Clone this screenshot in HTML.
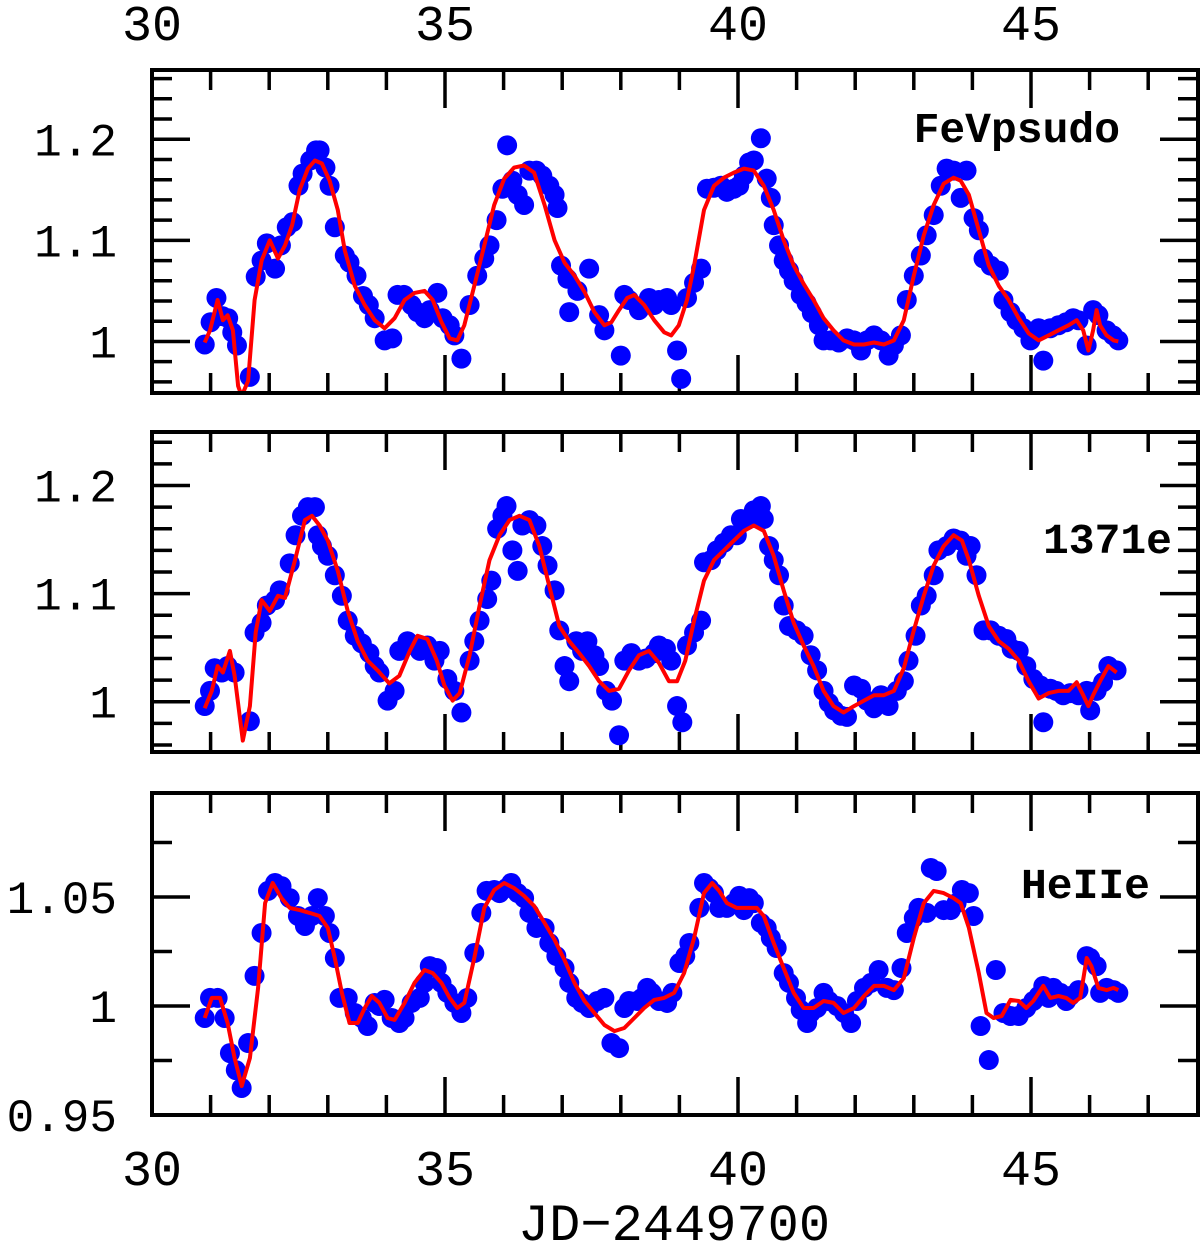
<!DOCTYPE html>
<html><head><meta charset="utf-8">
<style>
html,body{margin:0;padding:0;background:#fff;}
svg{display:block;}
text{font-family:"Liberation Mono","DejaVu Sans Mono",monospace;fill:#000;}
</style></head>
<body>
<svg id="chart" width="1200" height="1250" viewBox="0 0 1200 1250" xmlns="http://www.w3.org/2000/svg"></svg>
<script>
// ---------- data ----------
const xTickLabels = ["30","35","40","45"];
const p1YTickLabels = ["1","1.1","1.2"];
const p2YTickLabels = ["1","1.1","1.2"];
const p3YTickLabels = ["0.95","1","1.05"];
const panelLabels = ["FeVpsudo","1371e","HeIIe"];

const p1DotX = [30.90,31.0,31.1,31.2,31.3,31.37,31.45,31.67,31.77,31.87,31.96,32.1,32.2,32.3,32.4,32.5,32.57,32.7,32.8,32.86,32.96,33.03,33.12,33.29,33.37,33.49,33.6,33.7,33.8,33.97,34.1,34.19,34.3,34.43,34.53,34.65,34.74,34.87,34.96,35.08,35.16,35.28,35.42,35.55,35.67,35.76,35.88,35.98,36.06,36.15,36.24,36.35,36.44,36.56,36.66,36.78,36.87,36.92,36.98,37.09,37.12,37.26,37.46,37.63,37.72,38.0,38.06,38.14,38.31,38.48,38.57,38.65,38.79,38.86,38.96,39.03,39.13,39.25,39.37,39.47,39.59,39.71,39.81,39.93,40.02,40.1,40.19,40.27,40.39,40.49,40.56,40.61,40.7,40.78,40.87,40.95,41.07,41.17,41.26,41.38,41.46,41.58,41.72,41.86,41.98,42.1,42.2,42.32,42.44,42.57,42.66,42.78,42.88,43.0,43.12,43.22,43.34,43.46,43.56,43.68,43.8,43.9,44.02,44.11,44.19,44.31,44.45,44.53,44.65,44.75,44.87,44.99,45.13,45.21,45.33,45.47,45.6,45.72,45.81,45.95,46.06,46.15,46.29,46.4,46.49];
const p1DotY = [0.997,1.019,1.043,1.025,1.023,1.009,0.996,0.965,1.064,1.080,1.097,1.072,1.095,1.113,1.118,1.154,1.166,1.179,1.189,1.189,1.172,1.154,1.113,1.085,1.078,1.065,1.045,1.036,1.023,1.001,1.003,1.046,1.046,1.036,1.029,1.023,1.031,1.048,1.023,1.016,1.006,0.983,1.036,1.065,1.082,1.095,1.120,1.151,1.194,1.159,1.145,1.135,1.169,1.169,1.164,1.154,1.145,1.132,1.075,1.062,1.029,1.050,1.072,1.026,1.011,0.986,1.046,1.041,1.031,1.043,1.036,1.041,1.043,1.036,0.991,0.963,1.043,1.058,1.072,1.151,1.152,1.154,1.148,1.151,1.154,1.164,1.177,1.179,1.201,1.161,1.142,1.115,1.095,1.080,1.070,1.060,1.046,1.038,1.028,1.016,1.001,1.001,0.999,1.003,1.001,0.991,1.001,1.006,1.001,0.986,0.996,1.006,1.041,1.065,1.085,1.105,1.125,1.154,1.171,1.169,1.142,1.169,1.122,1.110,1.082,1.075,1.070,1.041,1.029,1.021,1.013,1.001,1.013,0.981,1.013,1.016,1.019,1.023,1.021,0.996,1.031,1.026,1.011,1.006,1.001];
const p1LineX = [30.90,30.99,31.12,31.21,31.29,31.38,31.47,31.53,31.64,31.75,31.87,32.01,32.15,32.27,32.39,32.52,32.66,32.78,32.90,33.03,33.17,33.29,33.46,33.63,33.80,33.97,34.14,34.31,34.48,34.65,34.79,34.94,35.08,35.21,35.33,35.50,35.67,35.84,36.01,36.18,36.35,36.52,36.70,36.87,37.04,37.21,37.38,37.55,37.72,37.84,37.97,38.11,38.23,38.40,38.57,38.74,38.86,38.99,39.13,39.25,39.42,39.59,39.76,39.93,40.10,40.27,40.44,40.61,40.78,40.95,41.12,41.29,41.46,41.63,41.80,41.98,42.15,42.32,42.49,42.66,42.83,43.00,43.17,43.34,43.51,43.68,43.80,43.94,44.11,44.28,44.45,44.62,44.79,44.96,45.13,45.30,45.47,45.64,45.78,45.89,45.98,46.06,46.12,46.18,46.29,46.41,46.49];
const p1LineY = [0.999,1.011,1.041,1.021,1.026,1.011,0.956,0.946,0.961,1.041,1.080,1.100,1.082,1.095,1.115,1.150,1.171,1.179,1.176,1.159,1.130,1.090,1.055,1.036,1.021,1.013,1.023,1.041,1.048,1.050,1.041,1.019,1.003,1.001,1.016,1.055,1.095,1.135,1.161,1.172,1.174,1.167,1.135,1.100,1.078,1.065,1.049,1.029,1.016,1.019,1.031,1.043,1.046,1.036,1.021,1.009,1.006,1.016,1.041,1.075,1.130,1.154,1.162,1.167,1.171,1.169,1.154,1.130,1.100,1.075,1.057,1.041,1.023,1.011,1.001,0.997,0.997,0.999,0.997,1.001,1.021,1.065,1.105,1.135,1.156,1.162,1.159,1.145,1.110,1.075,1.055,1.041,1.023,1.008,1.001,1.006,1.011,1.016,1.021,1.011,0.991,1.011,1.031,1.016,1.006,1.001,1.000];

const p2DotX = [30.90,30.99,31.07,31.19,31.29,31.41,31.67,31.75,31.87,31.96,32.1,32.18,32.35,32.45,32.56,32.66,32.78,32.83,32.9,33.0,33.12,33.24,33.34,33.46,33.58,33.71,33.8,33.88,34.02,34.14,34.22,34.36,34.48,34.57,34.7,34.82,34.91,35.04,35.16,35.28,35.42,35.5,35.59,35.72,35.79,35.89,35.98,36.05,36.15,36.24,36.32,36.44,36.56,36.66,36.75,36.87,36.95,37.04,37.12,37.24,37.34,37.43,37.55,37.63,37.75,37.85,37.97,38.06,38.18,38.31,38.43,38.57,38.65,38.77,38.86,38.96,39.05,39.13,39.25,39.37,39.42,39.54,39.64,39.76,39.88,39.98,40.05,40.15,40.27,40.39,40.44,40.53,40.61,40.7,40.78,40.87,41.0,41.12,41.24,41.35,41.46,41.55,41.64,41.76,41.86,41.98,42.1,42.2,42.32,42.44,42.57,42.71,42.83,42.91,43.03,43.12,43.22,43.34,43.42,43.56,43.68,43.8,43.9,43.97,44.07,44.19,44.31,44.45,44.58,44.67,44.79,44.92,45.04,45.16,45.21,45.33,45.43,45.55,45.67,45.81,45.95,46.01,46.12,46.23,46.32,46.46];
const p2DotY = [0.996,1.010,1.031,1.027,1.033,1.027,0.982,1.064,1.073,1.089,1.094,1.103,1.128,1.154,1.172,1.180,1.180,1.154,1.144,1.135,1.117,1.098,1.075,1.061,1.054,1.045,1.033,1.027,1.001,1.010,1.047,1.056,1.052,1.047,1.052,1.038,1.047,1.021,1.010,0.990,1.038,1.056,1.075,1.095,1.112,1.160,1.172,1.181,1.140,1.121,1.163,1.168,1.163,1.144,1.126,1.103,1.066,1.033,1.019,1.056,1.047,1.056,1.043,1.033,1.010,1.001,0.969,1.038,1.045,1.038,1.040,1.045,1.052,1.049,1.038,0.996,0.981,1.052,1.064,1.075,1.129,1.131,1.140,1.147,1.154,1.154,1.169,1.168,1.177,1.181,1.169,1.144,1.131,1.117,1.089,1.070,1.066,1.061,1.043,1.029,1.010,0.999,0.992,0.987,0.986,1.015,1.012,1.001,0.994,1.006,0.996,1.010,1.019,1.038,1.061,1.089,1.098,1.117,1.140,1.144,1.151,1.149,1.135,1.144,1.117,1.066,1.066,1.061,1.058,1.049,1.047,1.033,1.021,1.015,0.981,1.012,1.010,1.006,1.008,1.006,1.010,0.992,1.010,1.018,1.033,1.029];
const p2LineX = [30.90,31.02,31.12,31.21,31.33,31.41,31.55,31.67,31.77,31.87,32.01,32.15,32.27,32.44,32.61,32.73,32.86,33.0,33.17,33.34,33.51,33.68,33.85,34.05,34.22,34.40,34.53,34.70,34.86,34.99,35.13,35.25,35.42,35.59,35.76,35.93,36.10,36.27,36.44,36.61,36.78,36.95,37.12,37.29,37.46,37.63,37.80,37.97,38.14,38.31,38.48,38.65,38.82,38.96,39.10,39.25,39.42,39.59,39.76,39.93,40.10,40.27,40.44,40.61,40.78,40.95,41.12,41.29,41.46,41.63,41.80,41.98,42.15,42.32,42.49,42.66,42.83,43.00,43.17,43.34,43.51,43.68,43.82,43.94,44.11,44.28,44.45,44.62,44.79,44.96,45.13,45.30,45.47,45.64,45.78,45.89,45.98,46.06,46.18,46.32,46.46];
const p2LineY = [0.994,1.010,1.033,1.027,1.047,1.024,0.964,0.996,1.064,1.094,1.084,1.098,1.096,1.131,1.168,1.172,1.163,1.149,1.121,1.084,1.056,1.038,1.029,1.017,1.024,1.047,1.061,1.058,1.038,1.015,1.001,1.008,1.043,1.089,1.131,1.154,1.168,1.172,1.168,1.144,1.107,1.070,1.056,1.045,1.033,1.019,1.010,1.012,1.029,1.043,1.047,1.036,1.019,1.019,1.038,1.075,1.112,1.131,1.140,1.149,1.158,1.163,1.158,1.135,1.103,1.073,1.052,1.033,1.010,0.996,0.990,0.996,1.001,1.006,1.006,1.010,1.031,1.066,1.098,1.126,1.144,1.154,1.149,1.131,1.098,1.070,1.056,1.049,1.038,1.019,1.003,1.008,1.010,1.010,1.018,1.006,0.996,1.006,1.019,1.033,1.027];

const p3DotX = [30.90,30.99,31.12,31.24,31.33,31.43,31.53,31.64,31.75,31.87,31.98,32.10,32.21,32.35,32.49,32.61,32.73,32.83,32.95,33.03,33.12,33.20,33.34,33.46,33.58,33.68,33.80,33.88,33.97,34.09,34.22,34.31,34.43,34.57,34.65,34.74,34.86,34.94,35.04,35.16,35.28,35.38,35.50,35.62,35.71,35.84,35.93,36.05,36.13,36.24,36.35,36.44,36.56,36.70,36.78,36.90,37.04,37.12,37.24,37.34,37.46,37.60,37.72,37.84,37.97,38.06,38.14,38.28,38.36,38.45,38.53,38.65,38.79,38.88,39.0,39.10,39.17,39.34,39.42,39.51,39.59,39.68,39.81,39.93,40.02,40.10,40.19,40.27,40.39,40.49,40.56,40.66,40.78,40.87,40.99,41.07,41.18,41.24,41.35,41.46,41.55,41.69,41.81,41.93,42.03,42.15,42.27,42.40,42.54,42.66,42.79,42.88,43.00,43.08,43.22,43.29,43.39,43.51,43.63,43.73,43.82,43.94,44.02,44.14,44.28,44.40,44.53,44.65,44.79,44.92,45.04,45.13,45.21,45.30,45.38,45.50,45.60,45.67,45.81,45.95,46.01,46.12,46.18,46.29,46.41,46.49];
const p3DotY = [0.9945,1.0037,1.0037,0.9945,0.9784,0.9706,0.9624,0.9830,1.0138,1.0335,1.0528,1.0564,1.0550,1.0495,1.0413,1.0367,1.0413,1.0495,1.0413,1.0335,1.0220,1.0037,1.0037,0.9968,0.9945,0.9908,1.0014,1.0,1.0028,0.9945,0.9922,0.9945,1.0014,1.0037,1.0106,1.0183,1.0174,1.0106,1.0060,1.0014,0.9968,1.0037,1.0243,1.0427,1.0528,1.0532,1.0518,1.0541,1.0564,1.0518,1.0495,1.0427,1.0358,1.0358,1.0289,1.0229,1.0174,1.0106,1.0037,1.0014,0.9991,1.0023,1.0037,0.9830,0.9807,0.9991,1.0023,1.0023,1.0037,1.0083,1.0060,1.0023,1.0014,1.0060,1.0197,1.0229,1.0289,1.0450,1.0564,1.0541,1.0518,1.0450,1.0450,1.0472,1.0505,1.0440,1.0495,1.0472,1.0381,1.0358,1.0312,1.0266,1.0151,1.0106,1.0037,0.9982,0.9922,0.9968,0.9991,1.0060,1.0023,1.0,0.9968,0.9922,1.0023,1.0083,1.0106,1.0165,1.0083,1.0073,1.0174,1.0335,1.0404,1.0450,1.0427,1.0633,1.0619,1.0440,1.0440,1.0472,1.0532,1.0518,1.0413,0.9908,0.9752,1.0165,0.9968,0.9954,0.9954,0.9991,1.0023,1.0046,1.0092,1.0037,1.0083,1.0060,1.0023,1.0046,1.0073,1.0229,1.0220,1.0183,1.0060,1.0083,1.0073,1.0060];
const p3LineX = [30.90,31.02,31.16,31.29,31.41,31.53,31.67,31.81,31.93,32.06,32.21,32.35,32.52,32.69,32.86,33.00,33.12,33.24,33.37,33.51,33.63,33.75,33.88,34.02,34.14,34.31,34.48,34.65,34.79,34.94,35.08,35.21,35.33,35.50,35.67,35.84,36.01,36.18,36.35,36.52,36.70,36.87,37.04,37.21,37.38,37.55,37.72,37.89,38.06,38.23,38.40,38.57,38.74,38.91,39.08,39.25,39.42,39.56,39.68,39.81,39.98,40.15,40.32,40.44,40.61,40.78,40.95,41.12,41.29,41.46,41.63,41.80,41.98,42.15,42.32,42.49,42.66,42.83,43.00,43.17,43.34,43.51,43.68,43.80,43.94,44.11,44.24,44.36,44.50,44.65,44.79,44.92,45.04,45.21,45.33,45.47,45.60,45.72,45.84,45.95,46.03,46.15,46.29,46.41,46.49];
const p3LineY = [0.9945,1.0037,1.0037,0.9922,0.9761,0.9633,0.9761,1.0083,1.0472,1.0564,1.0495,1.0450,1.0440,1.0427,1.0413,1.0358,1.0220,1.0060,0.9922,0.9922,0.9991,1.0046,1.0014,0.9945,0.9936,1.0014,1.0106,1.0165,1.0151,1.0106,1.0037,0.9991,1.0014,1.0220,1.0450,1.0532,1.0564,1.0541,1.0505,1.0459,1.0381,1.0303,1.0211,1.0106,1.0023,0.9968,0.9913,0.9885,0.9899,0.9945,0.9991,1.0028,1.0037,1.0060,1.0151,1.0312,1.0518,1.0564,1.0528,1.0472,1.0450,1.0450,1.0450,1.0413,1.0289,1.0174,1.0060,0.9991,0.9991,1.0023,1.0014,0.9968,0.9991,1.0046,1.0092,1.0092,1.0073,1.0128,1.0312,1.0472,1.0528,1.0518,1.0495,1.0472,1.0358,1.0151,0.9968,0.9945,0.9954,1.0028,1.0023,0.9991,1.0023,1.0092,1.0037,1.0046,1.0037,1.0014,1.0037,1.0220,1.0183,1.0083,1.0073,1.0083,1.0073];

// ---------- layout ----------
const svg = document.getElementById('chart');
const NS = 'http://www.w3.org/2000/svg';
const L = 152, R = 1198;
const xMin = 30, xMax = 30 + (R - L) / 58.6;
function sx(v){ return L + (v - xMin) / (xMax - xMin) * (R - L); }

const panels = [
  {name:'fevpsudo', top:70, bot:393, yMin:0.949, yMax:1.2685, major:0.1, minor:0.02, labels:p1YTickLabels, dx:p1DotX, dy:p1DotY, lx:p1LineX, ly:p1LineY, label:panelLabels[0], lpx:1120, lpy:142, topLabels:true, botLabels:false},
  {name:'1371e', top:432, bot:752, yMin:0.9535, yMax:1.2495, major:0.1, minor:0.02, labels:p2YTickLabels, dx:p2DotX, dy:p2DotY, lx:p2LineX, ly:p2LineY, label:panelLabels[1], lpx:1172, lpy:553, topLabels:false, botLabels:false},
  {name:'heiie', top:793, bot:1115, yMin:0.95, yMax:1.0977, major:0.05, minor:0.025, labels:p3YTickLabels, dx:p3DotX, dy:p3DotY, lx:p3LineX, ly:p3LineY, label:panelLabels[2], lpx:1150, lpy:898, topLabels:false, botLabels:true}
];

function mk(tag, attrs){ const e=document.createElementNS(NS,tag); for(const k in attrs) e.setAttribute(k,attrs[k]); return e; }

panels.forEach((p)=>{
  const g = mk('g',{});
  
  
  svg.appendChild(g);
  const sy = v => p.bot - (v - p.yMin) / (p.yMax - p.yMin) * (p.bot - p.top);

  const tg = mk('g',{stroke:'#000','stroke-width':3.5});
  
  
  g.appendChild(tg);
  for (let v = 30; v <= 47.9; v += 1) {
    const x = sx(v); const maj = (Math.round(v) % 5 === 0); const len = maj ? 38 : 20;
    tg.appendChild(mk('line',{x1:x,x2:x,y1:p.top,y2:p.top+len}));
    tg.appendChild(mk('line',{x1:x,x2:x,y1:p.bot,y2:p.bot-len}));
  }
  const nMin = Math.ceil(p.yMin/p.minor - 1e-6), nMax = Math.floor(p.yMax/p.minor + 1e-6);
  for (let n = nMin; n <= nMax; n++) {
    const v = n * p.minor; const y = sy(v);
    const maj = Math.abs(v/p.major - Math.round(v/p.major)) < 1e-6; const len = maj ? 38 : 20;
    tg.appendChild(mk('line',{x1:L,x2:L+len,y1:y,y2:y}));
    tg.appendChild(mk('line',{x1:R,x2:R-len,y1:y,y2:y}));
  }
  p.labels.forEach(t=>{
    const v = parseFloat(t);
    const tx = mk('text',{x:117, y:sy(v)+16, 'text-anchor':'end','font-size':46});
    tx.textContent = t;
    
    
    g.appendChild(tx);
  });
  xTickLabels.forEach(t=>{
    const v = parseFloat(t);
    if (p.topLabels) {
      const tx = mk('text',{x:sx(v), y:p.top-30, 'text-anchor':'middle','font-size':50});
      tx.textContent = t;
      
      
      g.appendChild(tx);
    }
    if (p.botLabels) {
      const tx = mk('text',{x:sx(v), y:p.bot+70, 'text-anchor':'middle','font-size':50});
      tx.textContent = t;
      
      
      g.appendChild(tx);
    }
  });
  const cid = 'clip-' + p.name;
  const cp = mk('clipPath',{id:cid}); cp.appendChild(mk('rect',{x:L,y:p.top,width:R-L,height:p.bot-p.top}));
  svg.appendChild(cp);
  const dg = mk('g',{fill:'#0000ff','clip-path':'url(#'+cid+')'});
  
  
  g.appendChild(dg);
  p.dx.forEach((xv,i)=>{
    const c = mk('circle',{cx:sx(xv), cy:sy(p.dy[i]), r:10});
    
    
    dg.appendChild(c);
  });
  const pts = p.lx.map((xv,i)=> sx(xv).toFixed(1)+','+sy(p.ly[i]).toFixed(1)).join(' ');
  const pl = mk('polyline',{points:pts, fill:'none', stroke:'#ff0000','stroke-width':4,'stroke-linejoin':'round','clip-path':'url(#'+cid+')'});
  
  
  g.appendChild(pl);
  const fr = mk('rect',{x:L, y:p.top, width:R-L, height:p.bot-p.top, fill:'none', stroke:'#000','stroke-width':4});
  
  
  g.appendChild(fr);
  const lb = mk('text',{x:p.lpx, y:p.lpy, 'text-anchor':'end','font-size':43,'font-weight':'bold'});
  lb.textContent = p.label;
  
  
  g.appendChild(lb);
});

const xt = mk('text',{x:674, y:1240, 'text-anchor':'middle','font-size':52});
xt.textContent = 'JD\u22122449700';


svg.appendChild(xt);
</script>
</body></html>
